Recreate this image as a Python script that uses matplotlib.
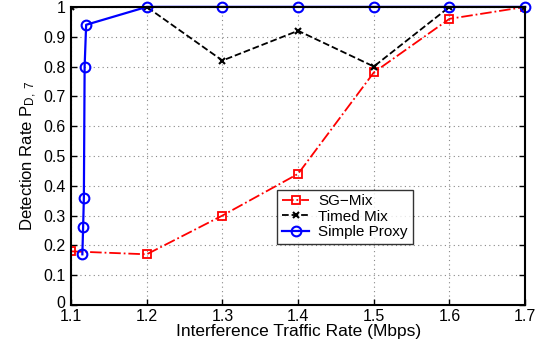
import matplotlib.pyplot as plt
import matplotlib.transforms as mtransforms

plt.rcParams['font.family'] = ['Liberation Sans', 'DejaVu Sans']
plt.rcParams['mathtext.fontset'] = 'custom'
plt.rcParams['mathtext.rm'] = 'Liberation Sans'
plt.rcParams['mathtext.it'] = 'Liberation Sans'

# detection rate vs interference traffic rate
rate = [1.1, 1.2, 1.3, 1.4, 1.5, 1.6, 1.7]
sg_mix = [0.18, 0.17, 0.30, 0.44, 0.78, 0.96, 1.0]
timed_mix = [1.0, 1.0, 0.82, 0.92, 0.80, 1.0, 1.0]

proxy_rate = [1.115, 1.116, 1.117, 1.118, 1.12, 1.2, 1.3, 1.4, 1.5, 1.6, 1.7]
simple_proxy = [0.17, 0.26, 0.36, 0.80, 0.94, 1.0, 1.0, 1.0, 1.0, 1.0, 1.0]

xticks = [1.1, 1.2, 1.3, 1.4, 1.5, 1.6, 1.7]
yticks = [0, 0.1, 0.2, 0.3, 0.4, 0.5, 0.6, 0.7, 0.8, 0.9, 1]

fig = plt.figure(figsize=(5.42, 3.45), dpi=100)
ax = fig.add_axes([0.131, 0.116, 0.838, 0.864])

ax.plot(rate, sg_mix, color='#ff0000', linestyle='-.', linewidth=1.3,
        marker='s', markersize=5.5, markerfacecolor='none', markeredgewidth=1.3,
        label='SG\u2212Mix')
ax.plot(rate, timed_mix, color='black', linestyle='--', linewidth=1.3,
        marker='x', markersize=4, markeredgewidth=1.5, label='Timed Mix')
ax.plot(proxy_rate, simple_proxy, color='#0000ff', linestyle='-', linewidth=1.6,
        marker='o', markersize=7, markerfacecolor='none', markeredgewidth=1.5,
        label='Simple Proxy', clip_on=False)

ax.set_xlim(1.1, 1.7)
ax.set_ylim(0, 1)
ax.set_xticks(xticks)
ax.set_yticks(yticks)
ax.set_xticklabels([f'{t:g}' for t in xticks])
ax.set_yticklabels([f'{t:g}' for t in yticks])
ax.tick_params(direction='in', labelsize=11.5, length=4, width=1, top=False, right=True)
ax.tick_params(axis='x', pad=3)
ax.tick_params(axis='y', pad=4)
ax.grid(True, linestyle=(0, (1, 3)), color='#888888', linewidth=0.8)
for s in ax.spines.values():
    s.set_linewidth(1.5)

# nudge the y "0" up so it clears the "1.1" below it
zero_lbl = ax.get_yticklabels()[0]
zero_lbl.set_transform(zero_lbl.get_transform() +
                       mtransforms.ScaledTranslation(0, 3 / 100, fig.dpi_scale_trans))

ax.set_xlabel('Interference Traffic Rate (Mbps)', fontsize=12.5, labelpad=0)
ax.set_ylabel('Detection Rate P$_{\\mathrm{D,\\ 7}}$', fontsize=12, labelpad=3)

leg = ax.legend(loc='lower left', bbox_to_anchor=(0.454, 0.205), fontsize=11,
                frameon=True, fancybox=False, handlelength=1.8, borderaxespad=0,
                borderpad=0.3, labelspacing=0.1, handletextpad=0.6)
leg.get_frame().set_edgecolor('black')
leg.get_frame().set_linewidth(1.0)

fig.savefig('out.png', dpi=100)
